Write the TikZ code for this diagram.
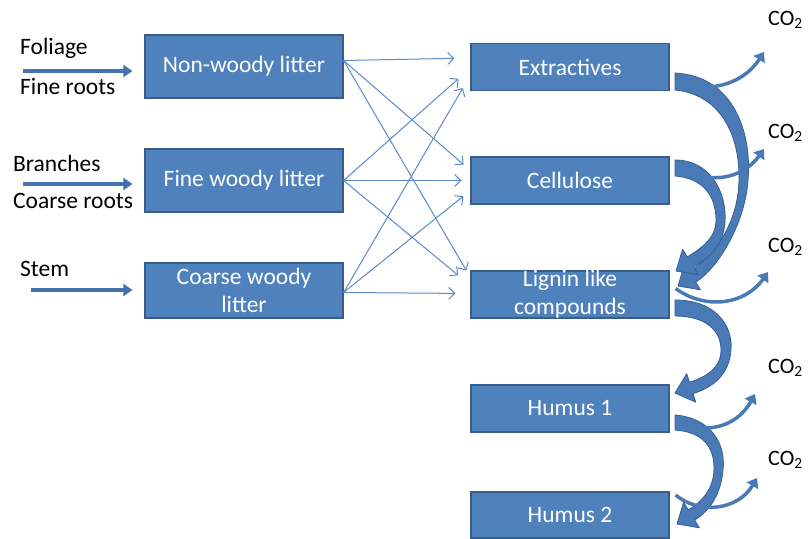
\documentclass[tikz,border=0pt]{standalone}
\usepackage{fontspec}
\setmainfont{Carlito}
\usetikzlibrary{arrows.meta,calc}
\definecolor{boxfill}{HTML}{4F81BD}
\definecolor{boxedge}{HTML}{385D8A}
\definecolor{thinblue}{HTML}{5A8AC8}
\definecolor{feedblue}{HTML}{4472AC}
\definecolor{bandfill}{HTML}{4A7AB6}
\definecolor{bandedge}{HTML}{335F98}
\begin{document}
\begin{tikzpicture}[x=1pt,y=-1pt,
  pool/.style={draw=boxedge, fill=boxfill, line width=1.2pt, text=white,
    font=\fontsize{23.5}{28}\selectfont, minimum width=198pt, inner sep=0pt, align=center},
  src/.style={font=\fontsize{23.5}{28}\selectfont, anchor=west, inner sep=0pt},
  gas/.style={font=\fontsize{22}{26}\selectfont, anchor=west, inner sep=0pt},
  feed/.style={draw=feedblue, line width=4pt, -{Triangle[width=12pt,length=9pt]}},
  flow/.style={draw=thinblue, line width=1pt, -{Straight Barb[length=6pt,width=12pt]}},
  band/.style={fill=bandfill, draw=bandedge, line width=0.8pt, line join=round},
  vent/.style={draw=bandfill, line width=3.5pt, -{Triangle[width=13pt,length=9pt]}}
]
\useasboundingbox (0,0) rectangle (808,538);

% litter pools
\node[pool, minimum height=63pt] (nw) at (244,66.5) {Non-woody litter};
\node[pool, minimum height=63pt] (fw) at (244,180.5) {Fine woody litter};
\node[pool, minimum height=55pt] (cw) at (244,290.5) {Coarse woody\\litter};

% compound pools
\node[pool, minimum height=47pt] (ex) at (570,67) {Extractives};
\node[pool, minimum height=47pt] (ce) at (570,180.5) {Cellulose};
\node[pool, minimum height=47pt] (li) at (570,294.5)
  {\parbox[c][30pt][c]{190pt}{\centering Lignin like\\compounds}};
\node[pool, minimum height=47pt] (h1) at (570,408.5) {Humus 1};
\node[pool, minimum height=46pt] (h2) at (570,515) {Humus 2};

% litter sources
\node[src] (fol) at (20,48) {Foliage};
\node[src] (frt) at (20,87) {Fine roots};
\node[src] (bra) at (13,163) {Branches};
\node[src] (crt) at (13,201) {Coarse roots};
\node[src] (stm) at (20,269) {Stem};

\coordinate (in1) at (23,71);
\coordinate (in2) at (23,184);
\coordinate (in3) at (31,290);
\draw[feed, shorten >=12pt] (in1) -- (in1 -| nw.west);
\draw[feed, shorten >=12pt] (in2) -- (in2 -| fw.west);
\draw[feed, shorten >=12pt] (in3) -- (in3 -| cw.west);

% litter to compound fluxes
\coordinate (nwo) at ($(nw.east)+(0,-6)$);
\coordinate (fwo) at (fw.east);
\coordinate (cwo) at ($(cw.east)+(0,2)$);
\draw[flow, shorten >=16pt] (nwo) -- ($(ex.west)+(0,-9)$);
\draw[flow, shorten >=9pt]  (nwo) -- ($(ce.west)+(0,-10)$);
\draw[flow, shorten >=8pt]  (nwo) -- ($(li.west)+(0,-17)$);
\draw[flow, shorten >=16pt] (fwo) -- ($(ex.west)+(0,1)$);
\draw[flow, shorten >=9pt]  (fwo) -- (ce.west);
\draw[flow, shorten >=16pt] (fwo) -- ($(li.west)+(0,-9)$);
\draw[flow, shorten >=15pt] (cwo) -- ($(ex.west)+(0,8)$);
\draw[flow, shorten >=9pt]  (cwo) -- ($(ce.west)+(0,10)$);
\draw[flow, shorten >=15pt] (cwo) -- ($(li.west)+(0,-1)$);

% transfers between compound pools
\path[band] (675,73) .. controls (735,76) and (752,135) .. (748,180)
  .. controls (745,225) and (717,269) .. (695.7,282.1)
  -- (700.4,289.8) -- (678,286) -- (684.5,264.3) -- (689.3,271.9)
  .. controls (709.7,259.2) and (738,228) .. (739,180)
  .. controls (740,132) and (718,94) .. (675,90) -- cycle;
\path[band] (675,160) .. controls (710,160) and (727,192) .. (725,222)
  .. controls (723,245) and (711.6,256) .. (693.7,267.1)
  -- (698.4,274.8) -- (676,271) -- (682.6,249.3) -- (687.3,256.9)
  .. controls (702.6,247.4) and (716,238) .. (716,220)
  .. controls (716,196) and (703,178) .. (675,176) -- cycle;
\path[band] (675,300) .. controls (715,300) and (733,325) .. (731,350)
  .. controls (729,375) and (713,387.3) .. (693,393.6)
  -- (695.7,402.2) -- (675,393) -- (686.7,373.7) -- (689.4,382.2)
  .. controls (706.5,376.8) and (721,368) .. (721,350)
  .. controls (721,330) and (705,316) .. (675,316) -- cycle;
\path[band] (675,415) .. controls (712,418) and (726,445) .. (723,470)
  .. controls (721,492) and (711.7,509.5) .. (694.7,520.1)
  -- (699.4,527.8) -- (677,524) -- (683.6,502.3) -- (688.3,509.9)
  .. controls (703,501) and (714,488) .. (714,468)
  .. controls (714,446) and (702,432) .. (675,430) -- cycle;

% respiration
\node[gas] (g1) at (768,20) {CO\textsubscript{2}};
\node[gas] (g2) at (768,133) {CO\textsubscript{2}};
\node[gas] (g3) at (768,247) {CO\textsubscript{2}};
\node[gas] (g4) at (768,368) {CO\textsubscript{2}};
\node[gas] (g5) at (768,460) {CO\textsubscript{2}};

\coordinate (v1) at (764,52);
\coordinate (v2) at (764,149);
\coordinate (v3) at (768,272);
\coordinate (v4) at (755,394);
\coordinate (v5) at (757,478);
\draw[vent] ($(ex.east)+(6,14)$) .. controls (705,94) and (742,86) .. (v1);
\draw[vent] ($(ce.east)+(6,-16)$) .. controls (705,186) and (742,180) .. (v2);
\draw[vent] ($(li.east)+(6,-6)$) .. controls (705,310) and (745,305) .. (v3);
\draw[vent] ($(h1.east)+(6,10)$) .. controls (700,435) and (735,430) .. (v4);
\draw[vent] ($(h2.east)+(6,-20)$) .. controls (700,515) and (738,510) .. (v5);
\end{tikzpicture}
\end{document}
